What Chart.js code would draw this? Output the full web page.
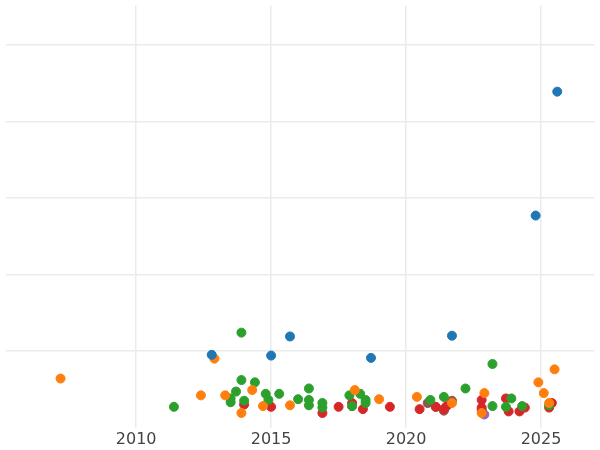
<!DOCTYPE html>
<html><head><meta charset="UTF-8">
<script src="https://cdn.jsdelivr.net/npm/chart.js"></script>
<style>body{margin:0;background:#fff}#wrap{width:600px;height:450px}</style>
</head><body><div id="wrap"><canvas id="c"></canvas></div>
<script>
// [year, value] pairs per group
const blue = [[2012.8,0.95],[2015.0,0.94],[2015.7,1.19],[2018.7,0.91],[2021.7,1.20],[2024.8,2.77],[2025.6,4.39]];
const orange = [[2007.2,0.64],[2012.9,0.90],[2012.4,0.42],[2013.3,0.42],[2013.9,0.19],[2014.3,0.49],[2014.7,0.28],[2015.7,0.29],[2018.1,0.49],[2019.0,0.37],[2020.4,0.40],[2022.9,0.45],[2022.8,0.19],[2024.9,0.59],[2025.1,0.45],[2025.5,0.76],[2025.3,0.32],[2021.7,0.32]];
const green = [[2011.4,0.27],[2013.5,0.38],[2013.5,0.33],[2013.7,0.47],[2013.9,0.62],[2014.0,0.35],[2014.4,0.59],[2014.8,0.44],[2014.9,0.36],[2015.3,0.44],[2016.0,0.37],[2016.4,0.51],[2016.4,0.29],[2016.4,0.36],[2016.9,0.32],[2016.9,0.26],[2017.9,0.42],[2018.0,0.28],[2018.3,0.44],[2018.5,0.36],[2018.5,0.32],[2020.9,0.36],[2021.4,0.40],[2022.2,0.51],[2023.2,0.83],[2023.2,0.28],[2023.7,0.27],[2023.9,0.38],[2024.3,0.28],[2025.3,0.29],[2013.9,1.24]];
const red = [[2014.0,0.30],[2015.0,0.27],[2016.9,0.19],[2017.5,0.27],[2018.4,0.24],[2019.4,0.27],[2020.5,0.24],[2021.1,0.27],[2021.4,0.24],[2021.5,0.28],[2022.8,0.36],[2022.8,0.26],[2022.8,0.23],[2023.7,0.38],[2023.8,0.21],[2024.2,0.21],[2024.4,0.26],[2025.3,0.26],[2025.4,0.32],[2018.0,0.32]];
const purple = [[2018.0,0.28],[2022.9,0.17]];
const brown = [[2020.8,0.32],[2021.4,0.22],[2021.7,0.35],[2021.1,0.27]];
const xTicks = [2010, 2015, 2020, 2025];
const yGrid = [1, 2, 3, 4, 5];

const toPts = a => a.map(p => ({x: p[0], y: p[1]}));
const mk = (d, c) => ({data: toPts(d), backgroundColor: c, borderColor: c, pointRadius: 4.5, pointHoverRadius: 4.5});

new Chart(document.getElementById('c'), {
  type: 'scatter',
  data: { datasets: [mk(blue,'#1f77b4'), mk(orange,'#ff7f0e'), mk(green,'#2ca02c'), mk(red,'#d62728'), mk(purple,'#9467bd'), mk(brown,'#8c564b')] },
  options: {
    responsive: true, maintainAspectRatio: false, animation: false,
    layout: { padding: 0 },
    plugins: { legend: { display: false }, tooltip: { enabled: false } },
    scales: {
      x: { type: 'linear', min: 2005.16, max: 2026.98,
           afterBuildTicks: ax => { ax.ticks = xTicks.map(v => ({value: v})); },
           afterFit: ax => { ax.height = 22.5; },
           grid: { color: '#ebebeb', lineWidth: 1.5, drawTicks: false }, border: { display: false },
           ticks: { color: '#444', font: { family: 'DejaVu Sans', size: 16 }, padding: 3, callback: v => String(v) } },
      y: { min: 0, max: 5.516,
           afterBuildTicks: ax => { ax.ticks = yGrid.map(v => ({value: v})); },
           afterFit: ax => { ax.width = 0; },
           grid: { color: '#ebebeb', lineWidth: 1.5, drawTicks: false }, border: { display: false },
           ticks: { display: false } }
    }
  }
});
</script></body></html>
